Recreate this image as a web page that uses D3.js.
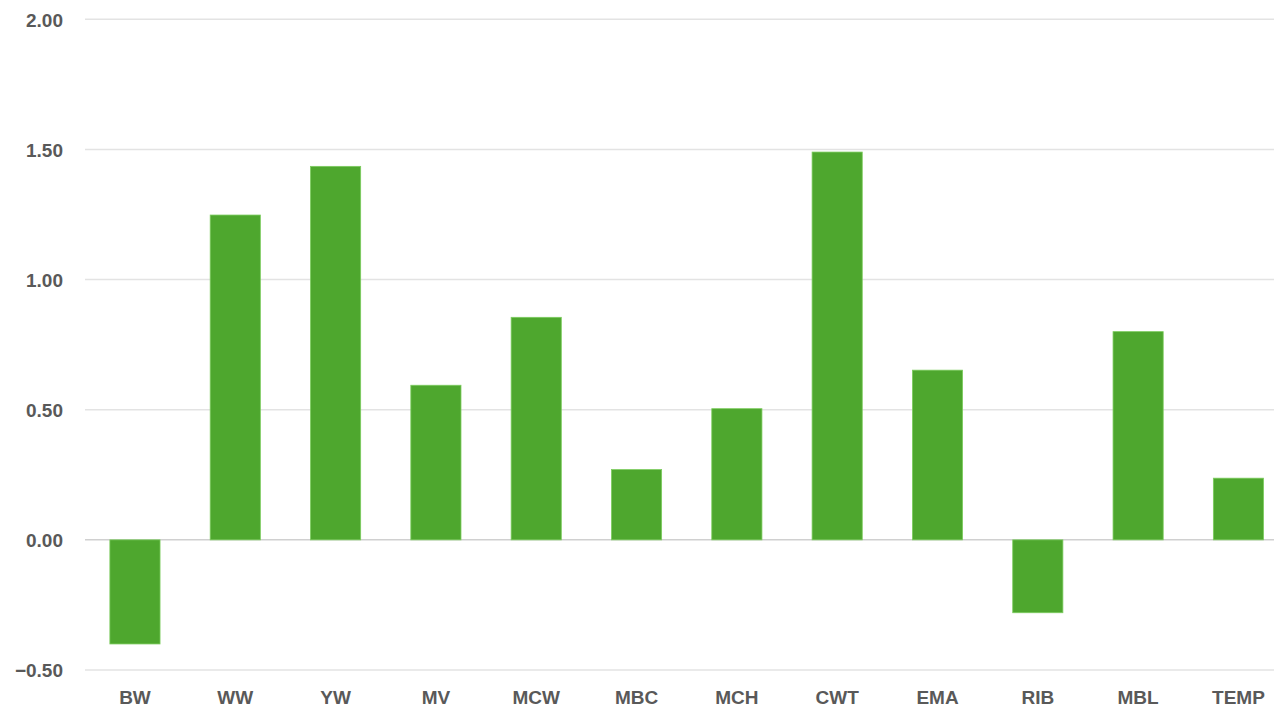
<!DOCTYPE html>
<html>
<head>
<meta charset="utf-8">
<script src="https://cdn.jsdelivr.net/npm/d3@7"></script>
<style>
  body { margin: 0; background: #fff; }
  .tick text { font-family: "Liberation Sans", Arial, sans-serif; font-weight: bold; fill: #595959; }
</style>
</head>
<body>
<script>
var categories = ["BW", "WW", "YW", "MV", "MCW", "MBC", "MCH", "CWT", "EMA", "RIB", "MBL", "TEMP"];
var values = [-0.40, 1.248, 1.435, 0.594, 0.855, 0.27, 0.504, 1.49, 0.652, -0.28, 0.80, 0.237];
var yTicks = [-0.5, 0, 0.5, 1, 1.5, 2];

var svgWidth = 1274;
var svgHeight = 708;

var svg = d3.select("body")
  .append("svg")
  .attr("width", svgWidth)
  .attr("height", svgHeight);

var xScale = d3.scaleBand()
  .domain(categories)
  .range([84.8, 1288.6])
  .paddingInner(0.5)
  .paddingOuter(0.25);

var yScale = d3.scaleLinear()
  .domain([-0.5, 2])
  .range([670, 19.3]);

// gridlines
svg.append("g")
  .selectAll("line")
  .data(yTicks)
  .enter()
  .append("line")
  .attr("x1", 85)
  .attr("x2", svgWidth)
  .attr("y1", d => yScale(d))
  .attr("y2", d => yScale(d))
  .attr("stroke", d => d === 0 ? "#d0d0d0" : "#e3e3e3")
  .attr("stroke-width", 1.5);

// y axis labels
var yAxis = d3.axisLeft(yScale)
  .tickValues(yTicks)
  .tickFormat(d3.format(".2f"))
  .tickSize(0)
  .tickPadding(0);

svg.append("g")
  .attr("transform", "translate(63,0)")
  .call(yAxis)
  .call(g => g.select(".domain").remove())
  .selectAll("text")
  .style("font-size", "19px")
  .attr("dy", "0.36em");

// bars
svg.append("g")
  .selectAll("rect")
  .data(values)
  .enter()
  .append("rect")
  .attr("x", (d, i) => xScale(categories[i]))
  .attr("width", xScale.bandwidth())
  .attr("y", d => yScale(Math.max(0, d)))
  .attr("height", d => Math.abs(yScale(d) - yScale(0)))
  .attr("fill", "#4ea72e")
  .attr("stroke", "#7ccc5e")
  .attr("stroke-width", 0.8);

// x axis labels
var xAxis = d3.axisBottom(xScale)
  .tickSize(0)
  .tickPadding(0);

svg.append("g")
  .attr("transform", "translate(0,690)")
  .call(xAxis)
  .call(g => g.select(".domain").remove())
  .selectAll("text")
  .style("font-size", "19px")
  .attr("dy", "0.72em");
</script>
</body>
</html>
